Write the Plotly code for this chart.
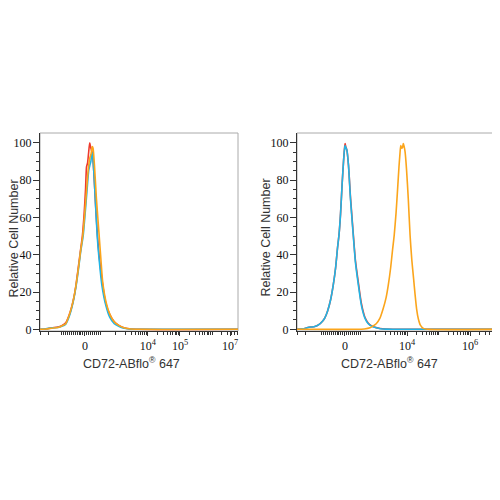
import numpy as np
import plotly.graph_objects as go

# ---------------- data (display channel units 0-100, relative cell number) ----------------
# Left panel
L_red_x = [0, 3, 6, 9, 11, 13, 14.5, 16, 17.3, 18.2, 19.2, 20.3, 21.4, 22.3, 23, 23.5, 24, 24.5, 25.1, 25.5, 26, 26.5, 27.2, 28, 28.9, 30, 31.5, 33, 35.2, 37.5, 40, 42, 45, 50, 100]
L_red_y = [0, 0.2, 0.8, 1.2, 2, 3.5, 7, 12, 18, 24, 32, 41, 50, 62, 75, 87, 89, 94, 100, 98, 96, 94, 84, 68, 52, 38, 25, 15, 8, 4, 2, 1, 0.3, 0, 0]

L_cyan_x = [0, 3, 6, 9, 11, 13, 14.8, 16.5, 18.2, 19.4, 20.6, 21.8, 22.8, 23.8, 24.6, 25.2, 25.7, 26.2, 26.6, 27.2, 28, 28.9, 29.9, 31.2, 33.2, 35.2, 37.5, 40, 42, 45, 50, 100]
L_cyan_y = [0, 0.3, 0.8, 1, 1.6, 2.8, 7, 13.5, 23, 32, 42, 50, 62, 75, 85, 88, 90, 95, 93, 84, 68, 50, 37, 24, 13, 6.5, 3, 1.5, 0.7, 0.2, 0, 0]

L_orange_x = [0, 3, 6, 9, 11, 13, 14.8, 16.5, 18.2, 19.3, 20.5, 21.6, 22.6, 23.6, 24.4, 25.2, 25.8, 26.4, 26.8, 27.5, 28.5, 29.9, 30.8, 31.7, 33.5, 35.4, 37.5, 40, 42, 45, 50, 100]
L_orange_y = [0, 0.2, 0.6, 1, 1.8, 3, 7.7, 14, 23.7, 32, 42, 50, 62, 76, 86, 92, 94, 98, 97, 88, 70, 50, 37, 25, 14, 7.7, 4, 2, 1, 0.3, 0, 0]

# Right panel
R_red_x = [0, 3, 5, 7, 9, 11, 13, 14, 15.5, 17, 18.3, 19.5, 20.5, 21.2, 22, 22.8, 23.5, 24, 24.3, 24.6, 25.2, 26, 27, 28.4, 29.5, 31, 32.5, 34.3, 36, 38, 40, 42, 45, 50, 100]
R_red_y = [0, 0.3, 0.8, 1.2, 1.5, 2.5, 4.5, 6, 10, 16, 23.7, 33, 44, 50.5, 62, 78, 90, 97, 99.5, 98, 96, 88, 71, 51.5, 37, 25, 14, 6.5, 3.3, 1.7, 0.9, 0.4, 0.1, 0, 0]

R_blue_x = [0, 3, 5, 7, 9, 11, 13, 14, 15.5, 17, 18.3, 19.5, 20.5, 21.2, 22, 22.8, 23.5, 24, 24.3, 24.6, 25.2, 26, 27, 28.4, 29.5, 31, 32.5, 34.3, 36, 38, 40, 42, 45, 50, 100]
R_blue_y = [0, 0.3, 0.8, 1.2, 1.5, 2.5, 4.5, 6, 10, 16, 23.7, 33, 44, 50.5, 62, 78, 90, 96.5, 98.5, 97.5, 96, 88, 70, 50.5, 36, 23.7, 13, 6, 3, 1.5, 0.8, 0.3, 0.1, 0, 0]

R_orange_x = [0, 30, 34, 36.9, 38.5, 40, 41.9, 43.5, 45, 46.1, 47.3, 48.3, 49.1, 50, 50.8, 51.5, 52, 52.4, 52.9, 53.3, 53.7, 54.1, 54.6, 55.3, 56.2, 57.1, 58.0, 58.9, 59.6, 60.4, 61.3, 62.3, 63.8, 66, 100]
R_orange_y = [0, 0, 0.2, 0.8, 1.8, 3, 6, 11, 17, 23.7, 33, 43, 50.5, 62, 75, 87, 94, 98.5, 97, 97.5, 99.5, 98, 95, 86, 70, 50.5, 37, 27, 19, 11, 5.5, 2.2, 0.5, 0, 0]

# Axis tick labels (display positions)
L_tick_pos = [22.7, 54.5, 70.7, 96.0]
L_tick_text = ["0", "10<sup>4</sup>", "10<sup>5</sup>", "10<sup>7</sup>"]
R_tick_pos = [24.2, 55.6, 87.4]
R_tick_text = ["0", "10<sup>4</sup>", "10<sup>6</sup>"]
Y_tick_vals = [0, 20, 40, 60, 80, 100]

X_TITLE = "CD72-ABflo<sup>®</sup> 647"
Y_TITLE = "Relative Cell Number"

RED = "#EE3A2C"
CYAN = "#1FB5E6"
ORANGE = "#FBA51C"


def minor_ticks(zero, dec4, D):
    """Decorative minor tick positions for a biexponential-like display axis."""
    vals = []
    for k in np.arange(-12, 9, 1.0):
        vals.append(zero + k)
    p3 = dec4 - D
    for n in range(0, 5):
        for k in range(1, 10):
            v = p3 + (n + np.log10(k)) * D
            if zero + 9 < v <= 100:
                vals.append(v)
    vals += [0.5, 4.5]
    return [v for v in vals if 0 <= v <= 100]


fig = go.Figure()

line_kw = dict(width=1.6, shape="spline", smoothing=0.6)
fig.add_trace(go.Scatter(x=L_red_x, y=L_red_y, mode="lines", line=dict(color=RED, **line_kw), xaxis="x", yaxis="y", showlegend=False))
fig.add_trace(go.Scatter(x=L_cyan_x, y=L_cyan_y, mode="lines", line=dict(color=CYAN, **line_kw), xaxis="x", yaxis="y", showlegend=False))
fig.add_trace(go.Scatter(x=L_orange_x, y=L_orange_y, mode="lines", line=dict(color=ORANGE, **line_kw), xaxis="x", yaxis="y", showlegend=False))

fig.add_trace(go.Scatter(x=R_red_x, y=R_red_y, mode="lines", line=dict(color=RED, **line_kw), xaxis="x2", yaxis="y2", showlegend=False))
fig.add_trace(go.Scatter(x=R_blue_x, y=R_blue_y, mode="lines", line=dict(color=CYAN, **line_kw), xaxis="x2", yaxis="y2", showlegend=False))
fig.add_trace(go.Scatter(x=R_orange_x, y=R_orange_y, mode="lines", line=dict(color=ORANGE, **line_kw), xaxis="x2", yaxis="y2", showlegend=False))

tickfont = dict(family="Liberation Serif", size=12, color="#111")
titlefont = dict(family="Liberation Sans", size=12.5, color="#333")

xcommon = dict(range=[0, 100], showgrid=False, zeroline=False, showline=True, linecolor="#333", linewidth=1,
               ticks="outside", ticklen=4, tickcolor="#333", tickfont=tickfont,
               tickmode="array", automargin=False, fixedrange=True)
ycommon = dict(range=[-0.9, 105.2], showgrid=False, zeroline=False, showline=True, linecolor="#333", linewidth=1,
               ticks="outside", ticklen=6, tickcolor="#333", tickfont=tickfont, ticklabelstandoff=-1,
               tickmode="array", tickvals=Y_tick_vals, ticktext=[str(v) for v in Y_tick_vals],
               minor=dict(tickmode="array", tickvals=[v for v in range(5, 105, 5) if v % 20], ticklen=3, tickcolor="#333", ticks="outside"),
               automargin=False, fixedrange=True)

# page body adds ~8px offset; domains compensate
XD_L = [0.064, 0.46]
XD_R = [0.578, 0.974]
YD = [0.354, 0.75]

fig.update_layout(
    width=500, height=500, margin=dict(l=0, r=0, t=0, b=0, autoexpand=False),
    paper_bgcolor="white", plot_bgcolor="white",
    xaxis=dict(xcommon, domain=XD_L, anchor="y", tickvals=L_tick_pos, ticktext=L_tick_text,
               minor=dict(tickmode="array", tickvals=minor_ticks(22.7, 54.5, 16.2), ticklen=2.5, tickcolor="#333", ticks="outside")),
    yaxis=dict(ycommon, domain=YD, anchor="x"),
    xaxis2=dict(xcommon, domain=XD_R, anchor="y2", tickvals=R_tick_pos, ticktext=R_tick_text,
                minor=dict(tickmode="array", tickvals=minor_ticks(24.2, 55.6, 15.9), ticklen=2.5, tickcolor="#333", ticks="outside")),
    yaxis2=dict(ycommon, domain=YD, anchor="x2"),
)

# axis titles
for xc, yc in ((0.246, 0.29), (0.762, 0.29)):
    fig.add_annotation(text=X_TITLE, xref="paper", yref="paper", x=xc, y=yc, xanchor="center", yanchor="middle",
                       showarrow=False, font=titlefont)
for xc, yc in ((0.011, 0.538), (0.516, 0.541)):
    fig.add_annotation(text=Y_TITLE, xref="paper", yref="paper", x=xc, y=yc, xanchor="center", yanchor="middle",
                       textangle=-90, showarrow=False, font=titlefont)

for xd in (XD_L, XD_R):
    fig.add_shape(type="rect", xref="paper", yref="paper", x0=xd[0], x1=xd[1], y0=YD[0], y1=YD[1],
                  line=dict(color="#AAAAAA", width=1), layer="below")

fig.write_html("out.html")
